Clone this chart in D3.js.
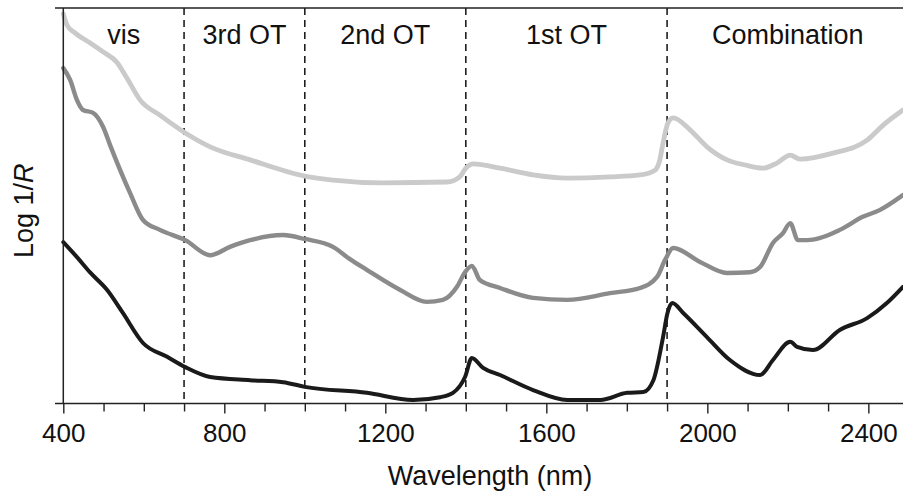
<!DOCTYPE html>
<html>
<head>
<meta charset="utf-8">
<script src="https://cdn.jsdelivr.net/npm/d3@7/dist/d3.min.js"></script>
<style>
  html, body { margin: 0; padding: 0; background: #fff; }
  svg { display: block; }
  text { font-family: "Liberation Sans", Arial, Helvetica, sans-serif; fill: #111; }
</style>
</head>
<body>
<svg id="chart" width="903" height="498"></svg>
<script>
// ---- Data (Log 1/R in arbitrary units) ----
const lightWl  = [400,409,429,466,499,533,558,591,640,703,765,864,1000,1070,1194,1353,1385,1400,1418,1485,1567,1652,1758,1833,1870,1882,1890,1902,1915,1957,1999,2049,2094,2138,2173,2206,2230,2312,2397,2437,2486];
const lightVal = [0.985,0.957,0.937,0.912,0.889,0.863,0.823,0.767,0.729,0.684,0.649,0.616,0.575,0.565,0.558,0.560,0.573,0.595,0.606,0.595,0.578,0.570,0.573,0.578,0.590,0.616,0.659,0.709,0.722,0.692,0.649,0.616,0.603,0.595,0.608,0.628,0.618,0.633,0.666,0.704,0.742];

const midWl  = [400,417,434,449,474,499,516,566,598,640,703,765,814,864,946,1000,1070,1112,1154,1237,1303,1343,1378,1398,1415,1435,1485,1567,1652,1758,1833,1875,1895,1915,1982,2049,2106,2131,2163,2188,2206,2225,2247,2329,2386,2428,2486];
const midVal = [0.848,0.818,0.767,0.742,0.735,0.699,0.654,0.532,0.464,0.439,0.413,0.375,0.396,0.413,0.426,0.416,0.396,0.365,0.338,0.287,0.257,0.262,0.295,0.332,0.348,0.312,0.292,0.267,0.262,0.279,0.292,0.320,0.363,0.393,0.358,0.330,0.332,0.345,0.406,0.431,0.456,0.413,0.413,0.439,0.472,0.489,0.527];

const darkWl  = [400,434,466,509,548,598,658,703,765,864,946,1000,1154,1269,1336,1368,1398,1415,1443,1485,1567,1652,1734,1801,1841,1866,1890,1901,1913,1940,1999,2056,2131,2163,2206,2223,2262,2329,2397,2446,2486];
const darkVal = [0.408,0.370,0.332,0.287,0.229,0.153,0.118,0.092,0.067,0.059,0.054,0.042,0.027,0.009,0.016,0.027,0.067,0.115,0.090,0.072,0.034,0.009,0.009,0.027,0.029,0.059,0.168,0.229,0.254,0.229,0.168,0.110,0.072,0.110,0.156,0.143,0.135,0.186,0.216,0.254,0.295];

const boundaries   = [700, 1000, 1400, 1900];
const regionNames  = ["vis", "3rd OT", "2nd OT", "1st OT", "Combination"];
const majorTicks   = [400, 800, 1200, 1600, 2000, 2400];
const minorTicks   = [500, 600, 700, 900, 1000, 1100, 1300, 1400, 1500, 1700, 1800, 1900, 2100, 2200, 2300];
const xDomain      = [400, 2500];

const series = [
  { wl: lightWl, val: lightVal, color: "#cacaca", width: 4.8 },
  { wl: midWl,   val: midVal,   color: "#8b8b8b", width: 4.4 },
  { wl: darkWl,  val: darkVal,  color: "#1a1a1a", width: 4.0 }
];

// ---- Layout ----
const svg = d3.select("#chart");
const plotL = 63.3, plotR = 908.6, plotT = 8, plotB = 403.5;
const x = d3.scaleLinear().domain(xDomain).range([plotL, plotR]);
const y = d3.scaleLinear().domain([0, 1]).range([plotB, plotT]);
const axisColor = "#222";

// dashed region boundaries
svg.append("g").selectAll("line").data(boundaries).join("line")
  .attr("x1", d => x(d)).attr("x2", d => x(d))
  .attr("y1", plotT).attr("y2", plotB)
  .attr("stroke", "#111").attr("stroke-width", 1.5)
  .attr("stroke-dasharray", "7,5");

// spectra
const line = d3.line().curve(d3.curveMonotoneX)
  .x(d => x(d[0])).y(d => y(d[1]));
svg.append("g").selectAll("path").data(series).join("path")
  .attr("d", s => line(s.wl.map((w, i) => [w, s.val[i]])))
  .attr("fill", "none")
  .attr("stroke", s => s.color)
  .attr("stroke-width", s => s.width)
  .attr("stroke-linejoin", "round")
  .attr("stroke-linecap", "round");

// frame lines: top border, left axis, bottom axis
svg.append("line").attr("x1", 55).attr("x2", 903).attr("y1", plotT).attr("y2", plotT)
  .attr("stroke", axisColor).attr("stroke-width", 1.5);
svg.append("line").attr("x1", plotL).attr("x2", plotL).attr("y1", plotT).attr("y2", plotB)
  .attr("stroke", axisColor).attr("stroke-width", 1.5);
svg.append("line").attr("x1", 55).attr("x2", 903).attr("y1", plotB).attr("y2", plotB)
  .attr("stroke", axisColor).attr("stroke-width", 1.5);

// minor ticks
const minorAxis = d3.axisBottom(x).tickValues(minorTicks).tickSize(8).tickFormat("");
const gMinor = svg.append("g").attr("transform", `translate(0,${plotB})`).call(minorAxis);
gMinor.select(".domain").remove();
gMinor.selectAll(".tick line").attr("stroke", axisColor).attr("stroke-width", 1.4);

// major ticks with labels
const majorAxis = d3.axisBottom(x).tickValues(majorTicks).tickSize(10).tickPadding(10).tickFormat(d3.format("d"));
const gMajor = svg.append("g").attr("transform", `translate(0,${plotB})`).call(majorAxis);
gMajor.select(".domain").remove();
gMajor.selectAll(".tick line").attr("stroke", axisColor).attr("stroke-width", 1.4);
gMajor.selectAll(".tick text")
  .attr("font-size", 26).attr("fill", "#111")
  .attr("font-family", "'Liberation Sans', Arial, sans-serif");

// region labels
const edges = [xDomain[0], ...boundaries, xDomain[1]];
svg.append("g").selectAll("text").data(regionNames).join("text")
  .attr("x", (d, i) => x((edges[i] + edges[i + 1]) / 2))
  .attr("y", 44)
  .attr("text-anchor", "middle")
  .attr("font-size", 27)
  .text(d => d);

// axis titles
svg.append("text")
  .attr("x", 490).attr("y", 485)
  .attr("text-anchor", "middle")
  .attr("font-size", 27)
  .text("Wavelength (nm)");

const yt = svg.append("text")
  .attr("transform", `translate(33,${(plotT + plotB) / 2 + 5}) rotate(-90)`)
  .attr("text-anchor", "middle")
  .attr("font-size", 27);
yt.append("tspan").text("Log 1/");
yt.append("tspan").attr("font-style", "italic").text("R");
</script>
</body>
</html>
